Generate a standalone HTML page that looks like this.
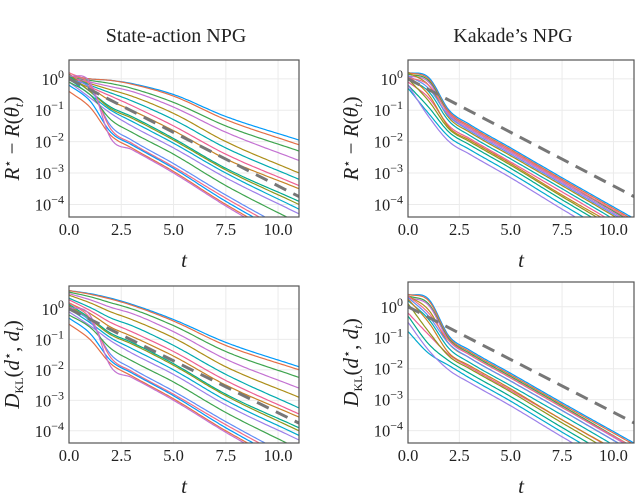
<!DOCTYPE html>
<html><head><meta charset="utf-8">
<style>
body{margin:0;background:#fff;}
svg{display:block;font-family:"Liberation Serif",serif;}
</style></head>
<body>
<svg id="chart" width="640" height="495" viewBox="0 0 640 495"></svg>
<script>
// ---- data (log10 values at sample times) ----
const sampleTimes = [0, 1, 2, 3, 5, 7.5, 11];
const xTicks = [0, 2.5, 5, 7.5, 10];
const xTickLabels = ["0.0", "2.5", "5.0", "7.5", "10.0"];
const yTicks = [0, -1, -2, -3, -4];
const refLine = [0, -3.75]; // log10 at t=0 and t=11
const palette = ["#009AFA","#E36F47","#3EA44E","#C371D2","#AC8E18","#00AAAE","#ED5E93","#C68225","#00A98D","#8E971D","#00A9CD","#9B7FE9","#618DF6","#F16C85"];

const stateR = [
 [0.1,0.0,-0.05,-0.15,-0.5,-1.2,-1.95],
 [0.1,0.0,-0.05,-0.17,-0.55,-1.3,-2.1],
 [0.05,-0.05,-0.15,-0.3,-0.75,-1.5,-2.3],
 [0.05,-0.1,-0.25,-0.4,-0.9,-1.7,-2.6],
 [0.05,-0.15,-0.35,-0.55,-1.1,-2.0,-3.0],
 [0.1,-0.2,-0.45,-0.7,-1.3,-2.2,-3.2],
 [0.15,-0.25,-0.55,-0.85,-1.5,-2.4,-3.4],
 [0,-0.3,-0.7,-1.0,-1.65,-2.55,-3.5],
 [0.1,-0.4,-0.9,-1.2,-1.9,-2.85,-3.9],
 [0.15,-0.4,-0.95,-1.25,-1.95,-2.9,-4.0],
 [0.0,-0.5,-1.0,-1.35,-2.05,-3.0,-4.15],
 [-0.1,-0.6,-1.1,-1.5,-2.2,-3.15,-4.3],
 [0.0,-0.3,-1.5,-1.95,-2.7,-3.7,-5.0],
 [0.2,-0.2,-1.6,-2.05,-2.8,-3.8,-5.1],
 [-0.2,-0.7,-1.7,-2.1,-2.85,-3.9,-5.2],
 [-0.4,-0.9,-1.8,-2.2,-2.95,-4.0,-5.3],
 [-0.1,-0.5,-1.3,-1.7,-2.4,-3.4,-4.6],
 [0.1,-0.1,-1.9,-2.25,-3.0,-4.05,-5.4]
];
const kakadeR = [
 [0.2,0.05,-1.0,-1.45,-2.2,-3.15,-4.45],
 [0.2,0.0,-1.05,-1.5,-2.25,-3.2,-4.5],
 [0.15,-0.05,-1.1,-1.55,-2.3,-3.25,-4.6],
 [0.1,-0.1,-1.15,-1.6,-2.35,-3.3,-4.65],
 [0.2,-0.2,-1.25,-1.7,-2.45,-3.4,-4.75],
 [0.0,-0.4,-1.35,-1.8,-2.55,-3.5,-4.85],
 [-0.1,-0.6,-1.5,-1.9,-2.65,-3.6,-4.95],
 [0.1,-0.5,-1.55,-1.95,-2.7,-3.7,-5.0],
 [-0.2,-0.9,-1.7,-2.1,-2.85,-3.85,-5.2],
 [0,-0.7,-1.6,-2.0,-2.75,-3.75,-5.1],
 [-0.3,-1.1,-1.85,-2.25,-3.0,-4.0,-5.35],
 [-0.2,-1.2,-2.0,-2.4,-3.15,-4.15,-5.5],
 [0.1,-0.3,-1.2,-1.65,-2.4,-3.35,-4.7],
 [0.05,-0.2,-1.1,-1.55,-2.3,-3.25,-4.55]
];
const stateD = [
 [0.6,0.5,0.35,0.15,-0.35,-1.1,-1.9],
 [0.6,0.48,0.32,0.12,-0.4,-1.2,-2.0],
 [0.55,0.4,0.2,0.0,-0.55,-1.4,-2.25],
 [0.5,0.3,0.05,-0.15,-0.75,-1.65,-2.6],
 [0.45,0.2,-0.1,-0.35,-0.95,-1.9,-2.9],
 [0.35,0.05,-0.3,-0.55,-1.2,-2.15,-3.25],
 [0.3,-0.05,-0.45,-0.75,-1.4,-2.35,-3.45],
 [0.2,-0.15,-0.6,-0.9,-1.55,-2.5,-3.55],
 [0.15,-0.3,-0.8,-1.1,-1.8,-2.8,-3.9],
 [0.1,-0.35,-0.85,-1.15,-1.85,-2.85,-4.0],
 [0.0,-0.45,-0.95,-1.3,-2.0,-3.0,-4.15],
 [-0.1,-0.55,-1.05,-1.45,-2.15,-3.15,-4.3],
 [0.0,-0.4,-1.5,-1.95,-2.7,-3.7,-5.0],
 [0.2,-0.3,-1.6,-2.05,-2.8,-3.8,-5.1],
 [-0.3,-0.8,-1.7,-2.1,-2.85,-3.9,-5.2],
 [-0.5,-1.0,-1.8,-2.2,-2.95,-4.0,-5.3],
 [-0.2,-0.6,-1.3,-1.7,-2.4,-3.4,-4.6],
 [0.05,-0.2,-1.9,-2.25,-3.0,-4.05,-5.4]
];
const kakadeD = [
 [0.4,0.25,-0.95,-1.4,-2.15,-3.1,-4.4],
 [0.4,0.2,-1.0,-1.45,-2.2,-3.15,-4.45],
 [0.35,0.1,-1.05,-1.5,-2.25,-3.2,-4.55],
 [0.3,0.05,-1.1,-1.55,-2.3,-3.25,-4.6],
 [0.35,-0.1,-1.2,-1.65,-2.4,-3.35,-4.7],
 [0.2,-0.4,-1.35,-1.8,-2.55,-3.5,-4.85],
 [-0.2,-0.9,-1.55,-1.95,-2.7,-3.65,-5.0],
 [0.25,-0.5,-1.5,-1.9,-2.65,-3.65,-4.95],
 [-0.3,-1.2,-1.75,-2.15,-2.9,-3.9,-5.25],
 [0.1,-0.8,-1.6,-2.0,-2.75,-3.75,-5.1],
 [-0.8,-1.5,-1.9,-2.3,-3.05,-4.05,-5.4],
 [-0.5,-1.4,-2.05,-2.45,-3.2,-4.2,-5.55],
 [0.3,-0.3,-1.2,-1.65,-2.4,-3.35,-4.7],
 [0.35,-0.2,-1.1,-1.55,-2.3,-3.25,-4.55]
];

const panels = [
 {name:"state-action-reward", x0:69,x1:299,y0:60,y1:217,ymax:0.6,ymin:-4.4,series:stateR,ylab:"R",title:"State-action NPG"},
 {name:"kakade-reward", x0:408,x1:634,y0:60,y1:217,ymax:0.6,ymin:-4.4,series:kakadeR,ylab:"R",title:"Kakade\u2019s NPG"},
 {name:"state-action-kl", x0:69,x1:299,y0:286,y1:443,ymax:0.75,ymin:-4.4,series:stateD,ylab:"D"},
 {name:"kakade-kl", x0:408,x1:634,y0:282,y1:443,ymax:0.8,ymin:-4.4,series:kakadeD,ylab:"D"}
];

const NS="http://www.w3.org/2000/svg";
const svg=document.getElementById('chart');
function mk(tag,attrs,parent){const e=document.createElementNS(NS,tag);for(const k in attrs)e.setAttribute(k,attrs[k]);(parent||svg).appendChild(e);return e;}

// monotone cubic interpolation
function interp(xs,ys,x){
  const n=xs.length;let i=0;while(i<n-2&&x>xs[i+1])i++;
  const slopes=[];for(let k=0;k<n-1;k++)slopes.push((ys[k+1]-ys[k])/(xs[k+1]-xs[k]));
  const m=[slopes[0]];for(let k=1;k<n-1;k++){m.push(slopes[k-1]*slopes[k]<=0?0:(slopes[k-1]+slopes[k])/2);}m.push(slopes[n-2]);
  const h=xs[i+1]-xs[i],t=(x-xs[i])/h,t2=t*t,t3=t2*t;
  return (2*t3-3*t2+1)*ys[i]+(t3-2*t2+t)*h*m[i]+(-2*t3+3*t2)*ys[i+1]+(t3-t2)*h*m[i+1];
}

panels.forEach((p,pi)=>{
  const g=mk('g',{});
  
  
  const sx=v=>p.x0+(v/11)*(p.x1-p.x0);
  const sy=v=>p.y0+(p.ymax-v)/(p.ymax-p.ymin)*(p.y1-p.y0);
  const clipId='clip'+pi;
  const cp=mk('clipPath',{id:clipId},g);mk('rect',{x:p.x0,y:p.y0,width:p.x1-p.x0,height:p.y1-p.y0},cp);
  xTicks.forEach(v=>{const l=mk('line',{x1:sx(v),x2:sx(v),y1:p.y0,y2:p.y1,stroke:'#ebebeb','stroke-width':1},g);
    });
  yTicks.forEach(v=>{const l=mk('line',{x1:p.x0,x2:p.x1,y1:sy(v),y2:sy(v),stroke:'#ebebeb','stroke-width':1},g);
    });
  const sg=mk('g',{'clip-path':'url(#'+clipId+')'},g);
  p.series.forEach((s,si)=>{
    let d='';for(let k=0;k<=110;k++){const t=k*0.1;const v=interp(sampleTimes,s,t);d+=(k?'L':'M')+sx(t).toFixed(1)+','+sy(v).toFixed(1);}
    const path=mk('path',{d:d,fill:'none',stroke:palette[si%palette.length],'stroke-width':1.2},sg);
    
    
  });
  const ref=mk('line',{x1:sx(0),y1:sy(refLine[0]),x2:sx(11),y2:sy(refLine[1]),stroke:'#777','stroke-width':3,'stroke-dasharray':'13,8'},sg);
  
  
  const fr=mk('rect',{x:p.x0,y:p.y0,width:p.x1-p.x0,height:p.y1-p.y0,fill:'none',stroke:'#555','stroke-width':1.2},g);
  
  xTicks.forEach((v,i)=>{const t=mk('text',{x:sx(v),y:p.y1+18,'font-size':16.5,'text-anchor':'middle',fill:'#222'},g);t.textContent=xTickLabels[i];
    });
  yTicks.forEach(v=>{const t=mk('text',{x:p.x0-5,y:sy(v)+6,'font-size':16.5,'text-anchor':'end',fill:'#222'},g);
    
    const a=mk('tspan',{},t);a.textContent='10';
    const b=mk('tspan',{dy:-7,'font-size':12},t);b.textContent=(v===0?'0':'\u2212'+(-v));});
  const xt=mk('text',{x:(p.x0+p.x1)/2,y:p.y1+50,'font-size':21,'font-style':'italic','text-anchor':'middle',fill:'#222'},g);xt.textContent='t';
  
  const cx=p.x0-50,cy=(p.y0+p.y1)/2;
  const yt=mk('text',{x:cx,y:cy,'font-size':21,'text-anchor':'middle',fill:'#222',transform:'rotate(-90 '+cx+' '+cy+')'},g);
  
  if(p.ylab==='R'){
    yt.innerHTML='<tspan font-style="italic">R</tspan><tspan dy="-7" font-size="13">\u22c6</tspan><tspan dy="7"> \u2212 </tspan><tspan font-style="italic">R</tspan>(<tspan font-style="italic">\u03b8</tspan><tspan dy="4" font-size="13" font-style="italic">t</tspan><tspan dy="-4">)</tspan>';
  }else{
    yt.innerHTML='<tspan font-style="italic">D</tspan><tspan dy="4" font-size="12">KL</tspan><tspan dy="-4">(</tspan><tspan font-style="italic">d</tspan><tspan dy="-7" font-size="13">\u22c6</tspan><tspan dy="7">, </tspan><tspan font-style="italic">d</tspan><tspan dy="4" font-size="13" font-style="italic">t</tspan><tspan dy="-4">)</tspan>';
  }
  if(p.title){const tt=mk('text',{x:(p.x0+p.x1)/2-8,y:42,'font-size':20,'text-anchor':'middle',fill:'#222'},g);tt.textContent=p.title;
    }
});
</script>
</body></html>
